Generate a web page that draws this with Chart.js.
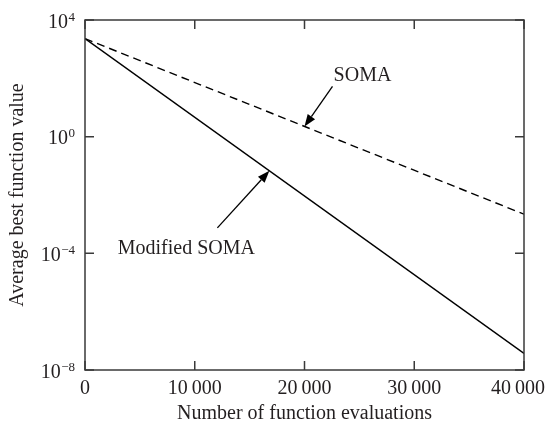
<!DOCTYPE html>
<html>
<head>
<meta charset="utf-8">
<script src="https://cdn.jsdelivr.net/npm/chart.js@4.4.1/dist/chart.umd.min.js"></script>
<style>
  html, body { margin: 0; padding: 0; background: #fff; }
  #wrap { width: 547px; height: 428px; position: relative; }
</style>
</head>
<body>
<div id="wrap"><canvas id="chart"></canvas></div>
<script>
// Data
const evaluations = [0, 40000];
const somaValues = [2300, 2.2e-3];
const modifiedSomaValues = [2300, 3.7e-8];
const yTickValues = [1e-8, 1e-4, 1, 1e4];
const xTickValues = [0, 10000, 20000, 30000, 40000];

const FONT = '"Liberation Serif", "DejaVu Serif", serif';
const AXIS_COLOR = '#3a3a3a';
const TEXT_COLOR = '#231f20';
const FONT_SIZE = 20;

function thousands(v) {
  return String(v).replace(/\B(?=(\d{3})+(?!\d))/g, '\u2009');
}

// Frame with inward ticks on all four sides, plus the tick labels
const framePlugin = {
  id: 'frame',
  afterDraw(chart) {
    const { ctx, chartArea: a, scales, width } = chart;
    const len = 9;
    ctx.save();
    ctx.strokeStyle = AXIS_COLOR;
    ctx.lineWidth = 1.5;
    ctx.strokeRect(a.left, a.top, a.right - a.left, a.bottom - a.top);
    ctx.beginPath();
    xTickValues.forEach(v => {
      const x = scales.x.getPixelForValue(v);
      ctx.moveTo(x, a.bottom); ctx.lineTo(x, a.bottom - len);
      ctx.moveTo(x, a.top); ctx.lineTo(x, a.top + len);
    });
    yTickValues.forEach(v => {
      const y = scales.y.getPixelForValue(v);
      ctx.moveTo(a.left, y); ctx.lineTo(a.left + len, y);
      ctx.moveTo(a.right, y); ctx.lineTo(a.right - len, y);
    });
    ctx.stroke();

    ctx.fillStyle = TEXT_COLOR;
    ctx.textBaseline = 'alphabetic';
    ctx.textAlign = 'left';

    // x tick labels, last one kept inside the canvas
    ctx.font = FONT_SIZE + 'px ' + FONT;
    xTickValues.forEach(v => {
      const label = thousands(v);
      const w = ctx.measureText(label).width;
      const x = Math.min(scales.x.getPixelForValue(v) - w / 2, width - w - 2);
      ctx.fillText(label, x, a.bottom + 24);
    });

    // y tick labels with a raised exponent
    yTickValues.forEach(v => {
      const y = scales.y.getPixelForValue(v);
      const exp = String(Math.round(Math.log10(v))).replace('-', '\u2212');
      ctx.font = '13px ' + FONT;
      const ew = ctx.measureText(exp).width;
      ctx.font = FONT_SIZE + 'px ' + FONT;
      const bw = ctx.measureText('10').width;
      const right = a.left - 10;
      ctx.fillText('10', right - ew - bw - 0.5, y + 7.5);
      ctx.font = '13px ' + FONT;
      ctx.fillText(exp, right - ew, y + 0.5);
    });
    ctx.restore();
  }
};

// Labels with arrows pointing onto the lines
const annotations = [
  { dataset: 0, text: 'SOMA', atX: 20000, dx: 28, dy: -40, tx: 58, ty: -51 },
  { dataset: 1, text: 'Modified SOMA', atX: 16800, dx: -52, dy: 57, tx: -83, ty: 78 },
];

function drawArrow(ctx, x0, y0, x1, y1) {
  const ang = Math.atan2(y1 - y0, x1 - x0);
  const hl = 12, hw = 4.5;
  const bx = x1 - hl * Math.cos(ang), by = y1 - hl * Math.sin(ang);
  ctx.beginPath();
  ctx.moveTo(x0, y0);
  ctx.lineTo(bx, by);
  ctx.stroke();
  ctx.beginPath();
  ctx.moveTo(x1, y1);
  ctx.lineTo(bx + hw * Math.sin(ang), by - hw * Math.cos(ang));
  ctx.lineTo(bx - hw * Math.sin(ang), by + hw * Math.cos(ang));
  ctx.closePath();
  ctx.fill();
}

const annotationPlugin = {
  id: 'arrows',
  afterDatasetsDraw(chart) {
    const { ctx, scales } = chart;
    ctx.save();
    ctx.strokeStyle = '#000';
    ctx.lineWidth = 1.3;
    ctx.font = FONT_SIZE + 'px ' + FONT;
    ctx.textAlign = 'center';
    ctx.textBaseline = 'middle';
    annotations.forEach(an => {
      const pts = chart.getDatasetMeta(an.dataset).data;
      const px = scales.x.getPixelForValue(an.atX);
      const t = (px - pts[0].x) / (pts[1].x - pts[0].x);
      const py = pts[0].y + t * (pts[1].y - pts[0].y);
      ctx.fillStyle = '#000';
      drawArrow(ctx, px + an.dx, py + an.dy, px, py);
      ctx.fillStyle = TEXT_COLOR;
      ctx.fillText(an.text, px + an.tx, py + an.ty);
    });
    ctx.restore();
  }
};

new Chart(document.getElementById('chart'), {
  type: 'line',
  data: {
    labels: evaluations,
    datasets: [
      {
        label: 'SOMA',
        data: evaluations.map((x, i) => ({ x, y: somaValues[i] })),
        borderColor: '#000',
        borderWidth: 1.4,
        borderDash: [8, 5],
        pointRadius: 0,
        fill: false,
      },
      {
        label: 'Modified SOMA',
        data: evaluations.map((x, i) => ({ x, y: modifiedSomaValues[i] })),
        borderColor: '#000',
        borderWidth: 1.4,
        pointRadius: 0,
        fill: false,
      },
    ],
  },
  options: {
    responsive: true,
    maintainAspectRatio: false,
    animation: false,
    layout: { padding: { top: 20, right: 23, left: 0, bottom: 0 } },
    plugins: {
      legend: { display: false },
      tooltip: { enabled: false },
    },
    scales: {
      x: {
        type: 'linear',
        min: 0,
        max: 40000,
        afterBuildTicks: s => { s.ticks = xTickValues.map(v => ({ value: v })); },
        afterFit: s => { s.height = 58; s.paddingLeft = 0; s.paddingRight = 0; },
        grid: { display: false },
        border: { display: false },
        ticks: { display: false },
        title: {
          display: true,
          text: 'Number of function evaluations',
          color: TEXT_COLOR,
          font: { family: FONT, size: FONT_SIZE },
          padding: { top: 0, bottom: 2 },
        },
      },
      y: {
        type: 'logarithmic',
        min: 1e-8,
        max: 1e4,
        afterBuildTicks: s => { s.ticks = yTickValues.map(v => ({ value: v })); },
        afterFit: s => { s.width = 85; },
        grid: { display: false },
        border: { display: false },
        ticks: { display: false },
        title: {
          display: true,
          text: 'Average best function value',
          color: TEXT_COLOR,
          font: { family: FONT, size: FONT_SIZE },
          padding: { top: 6, bottom: 0 },
        },
      },
    },
  },
  plugins: [framePlugin, annotationPlugin],
});
</script>
</body>
</html>
